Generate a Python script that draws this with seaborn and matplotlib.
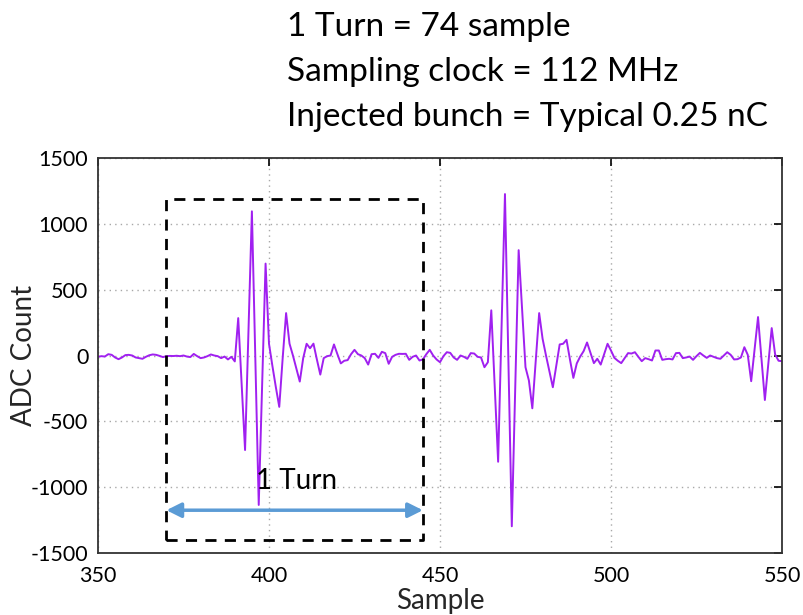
import numpy as np
import pandas as pd
import matplotlib
matplotlib.use("Agg")
import matplotlib.pyplot as plt
import seaborn as sns

# ---- data ----
adc_values = [
    -10, -5, -8, 10, 5, -15, -28, -15, 3, 5,          # 350-359
    0, -15, -20, -25, -10, 2, 8, 5, -3, -12,          # 360-369
    -5, -3, -4, -2, -5, 0, -8, -12, 12, -5,           # 370-379
    -20, -15, -5, 8, 0, -5, -20, -8, -30, -10,        # 380-389
    -45, 284, -217, -718, 188, 1095, -20, -1135, -218, 698,   # 390-399
    89, -80, -240, -390, -20, 322, 90, 0, -100, -198,  # 400-409
    -20, 89, 55, 90, -30, -145, -20, -5, 0, 84,       # 410-419
    10, -60, -40, -35, 10, 43, 10, 0, -20, -69,       # 420-429
    10, 13, -18, 28, 18, -63, -10, 5, 13, 12,         # 430-439
    13, -33, -10, 0, -38, -30, 10, 43, 0, -30,        # 440-449
    -51, -5, 25, 20, -15, -33, 0, -10, -25, 18,       # 450-459
    15, -10, -15, -89, -51, 343, -232, -807, 210, 1226,  # 460-469
    -35, -1297, -248, 800, 355, -89, -190, -401, -40, 322,  # 470-479
    127, 0, -120, -241, -80, 84, 89, 119, -30, -170,  # 480-489
    -60, -8, 33, 99, 20, -58, -25, -69, 10, 89,       # 490-499
    38, -18, -40, -58, -20, 18, 15, 25, -10, -43,     # 500-509
    -20, -28, -38, 38, 38, -33, -28, -25, -30, 18,    # 510-519
    20, -20, -15, -8, -33, -5, 20, 0, -18, 0,         # 520-529
    -10, -20, -25, 0, 25, 5, -30, -28, -15, 63,       # 530-539
    5, -195, 48, 292, -23, -338, -65, 208, 8, -40,    # 540-549
    -43,                                              # 550
]
sample_start = 350
samples = np.arange(sample_start, sample_start + len(adc_values))

x_ticks = [350, 400, 450, 500, 550]
y_ticks = [-1500, -1000, -500, 0, 500, 1000, 1500]

info_lines = ["1 Turn = 74 sample",
              "Sampling clock = 112 MHz",
              "Injected bunch = Typical 0.25 nC"]

turn_start, turn_end = 370, 445
box_top, box_bottom = 1190, -1400
arrow_y = -1175
turn_label = "1 Turn"

df = pd.DataFrame({"Sample": samples, "ADC Count": adc_values})

# ---- style ----
sns.set_style("white")
plt.rcParams["font.family"] = ["Lato", "DejaVu Sans"]
plt.rcParams["axes.unicode_minus"] = False

fig = plt.figure(figsize=(8.04, 6.15), dpi=100)
ax = fig.add_axes([0.1219, 0.1008, 0.8507, 0.6423])

sns.lineplot(data=df, x="Sample", y="ADC Count", ax=ax,
             color="#a020f0", linewidth=1.4)

ax.set_xlim(350, 550)
ax.set_ylim(-1500, 1500)
ax.set_xticks(x_ticks)
ax.set_yticks(y_ticks)
ax.tick_params(direction="in", length=6, width=1.2, top=True, right=True,
               labelsize=15.5, colors="black")
ax.tick_params(axis="x", pad=9)
ax.tick_params(axis="y", pad=7)
for lab in ax.get_xticklabels() + ax.get_yticklabels():
    lab.set_color("black")
ax.grid(True, linestyle=(0, (1, 3)), color="#a8a8a8", linewidth=1.0)
for sp in ax.spines.values():
    sp.set_color("#333333")
    sp.set_linewidth(1.3)

ax.set_xlabel("Sample", fontsize=20, labelpad=2)
ax.set_ylabel("ADC Count", fontsize=20)
ax.yaxis.label.set_va("center")
ax.yaxis.set_label_coords((24 - 98) / 684, 0.5)

# dashed box for one turn
ax.plot([turn_start, turn_end, turn_end, turn_start, turn_start],
        [box_bottom, box_bottom, box_top, box_top, box_bottom],
        color="black", linestyle=(0, (4, 3)), linewidth=2.0)

# double arrow
ax.annotate("", xy=(turn_start, arrow_y), xytext=(turn_end, arrow_y),
            arrowprops=dict(arrowstyle="<|-|>", color="#5b9bd5", lw=2.5,
                            mutation_scale=22, shrinkA=0, shrinkB=0))
ax.text(408, -952, turn_label,
        fontsize=20, ha="center", va="center", color="black")

# header text
for i, line in enumerate(info_lines):
    fig.text(287 / 804, 1 - (27 + 45 * i) / 615, line, fontsize=24,
             ha="left", va="center", color="black")

fig.savefig("out.png", dpi=100)
